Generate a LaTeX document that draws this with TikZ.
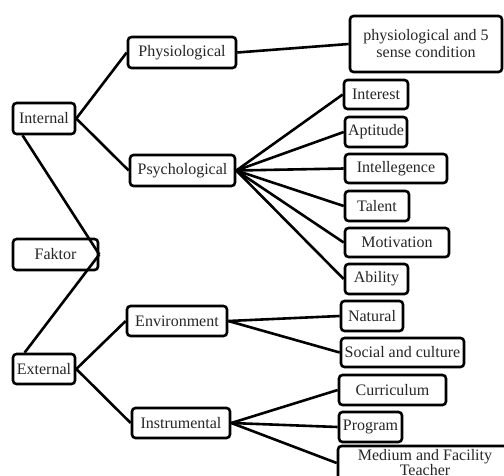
\documentclass[tikz,border=0pt]{standalone}
\usepackage{fontspec}
\setmainfont{Liberation Serif}
\begin{document}
\begin{tikzpicture}[x=1pt,y=-1pt,
  bx/.style={draw, line width=2.6pt, rounded corners=3.5pt, inner sep=0pt, align=center,
    fill=white, text=black!85, font=\fontsize{16}{17}\selectfont},
  sz/.style 2 args={minimum width=#1, minimum height=#2},
  ln/.style={line width=2.6pt}]
\useasboundingbox (0,0) rectangle (504,475);
\fill[white] (0,0) rectangle (504,475);
\clip (0,0) rectangle (504,475);
% level 0/1
\node[bx, sz={62pt}{31pt}] (internal) at (44,118.5) {Internal};
\node[bx, sz={85pt}{31pt}] (faktor) at (55.5,254.5) {Faktor};
\node[bx, sz={62pt}{30pt}] (external) at (44,369) {External};
% level 2
\node[bx, sz={108pt}{31pt}] (phys) at (182,52.5) {Physiological};
\node[bx, sz={105pt}{31pt}] (psych) at (182.5,170.5) {Psychological};
\node[bx, sz={100pt}{30pt}] (env) at (177,321) {Environment};
\node[bx, sz={98pt}{30pt}] (instr) at (181,423) {Instrumental};
% level 3
\node[bx, sz={152pt}{56pt}] (p5) at (426,44) {physiological and 5\\sense condition};
\node[bx, sz={64pt}{29pt}] (interest) at (376,94.5) {Interest};
\node[bx, sz={62pt}{30pt}] (aptitude) at (376,132) {Aptitude};
\node[bx, sz={102pt}{29pt}] (intel) at (396,168.5) {Intellegence};
\node[bx, sz={64pt}{30pt}] (talent) at (377,206) {Talent};
\node[bx, sz={104pt}{29pt}] (motiv) at (397,242.5) {Motivation};
\node[bx, sz={63pt}{30pt}] (ability) at (376.5,279) {Ability};
\node[bx, sz={62pt}{30pt}] (natural) at (372,316) {Natural};
\node[bx, sz={123pt}{29pt}] (social) at (402.5,352.5) {Social and culture};
\node[bx, sz={107pt}{30pt}] (curric) at (392.5,390) {Curriculum};
\node[bx, sz={63pt}{30pt}] (program) at (370.5,427) {Program};
\node[bx, sz={174pt}{34pt}, font=\fontsize{16}{15}\selectfont] (medium) at (425,463) {Medium and Facility\\Teacher};
% connectors
\draw[ln] (internal.east) -- (phys.west);
\draw[ln] (internal.east) -- (psych.west);
\draw[ln] (internal.218) -- (faktor.east);
\draw[ln] (external.140) -- (faktor.east);
\draw[ln] (external.east) -- (env.west);
\draw[ln] (external.east) -- (instr.west);
\draw[ln] (phys.east) -- (p5.west);
\foreach \t in {interest,aptitude,intel,talent,motiv,ability}
  \draw[ln] (psych.east) -- (\t.west);
\draw[ln] (env.east) -- (natural.west);
\draw[ln] (env.east) -- (social.west);
\draw[ln] (instr.east) -- (curric.west);
\draw[ln] (instr.east) -- (program.west);
\draw[ln] (instr.east) -- (medium.west);
\end{tikzpicture}
\end{document}
